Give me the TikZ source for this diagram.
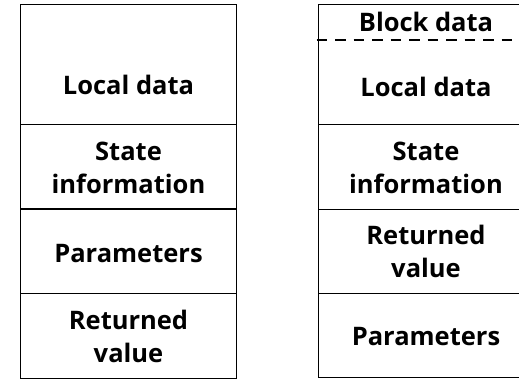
\documentclass[tikz,border=0pt]{standalone}
\usepackage{fontspec}
\setmainfont{Open Sans}
\begin{document}
\begin{tikzpicture}[x=1pt,y=-1pt,
  cell/.style={draw=black,line width=1pt,minimum width=216pt,anchor=north west,inner sep=0pt,outer sep=0pt},
  lbl/.style={font=\fontsize{25.5}{33}\selectfont\bfseries,align=center,inner sep=0pt,anchor=base}]
\useasboundingbox (0,0) rectangle (519,380);
\begin{scope}
\clip (0,0) rectangle (519,380);
% left stack
\node[cell,minimum height=119.5pt] (l1) at (20.5,4.5) {};
\node[cell,minimum height=85pt] (l2) at (20.5,124) {};
\node[cell,minimum height=84.5pt] (l3) at (20.5,209) {};
\node[cell,minimum height=84.5pt] (l4) at (20.5,293.5) {};
\draw[line width=1.7pt] (l2.south west) -- (l2.south east);
% right stack
\node[cell,minimum width=215pt,minimum height=119.5pt] (r1) at (318.5,4.5) {};
\node[cell,minimum width=215pt,minimum height=85pt] (r2) at (318.5,124) {};
\node[cell,minimum width=215pt,minimum height=84.5pt] (r3) at (318.5,209) {};
\node[cell,minimum width=215pt,minimum height=84pt] (r4) at (318.5,293.5) {};
\coordinate (dl) at (316.7,40);
\coordinate (dr) at (533.5,40);
\draw[line width=1.5pt,dash pattern=on 10.5pt off 8pt] (dl) -- (dr);
\end{scope}
% labels (multi-line labels: base = last line's baseline)
\node[lbl] (t1) at (128.5,94.5) {Local data};
\node[lbl] (t2) at (128.5,193) {State\\information};
\node[lbl] (t3) at (128.5,262) {Parameters};
\node[lbl] (t4) at (128.5,362) {Returned\\value};
\node[lbl] (u0) at (426,31.5) {Block data};
\node[lbl] (u1) at (426,96) {Local data};
\node[lbl] (u2) at (426,193) {State\\information};
\node[lbl] (u3) at (426,277) {Returned\\value};
\node[lbl] (u4) at (426,345) {Parameters};
\end{tikzpicture}
\end{document}
